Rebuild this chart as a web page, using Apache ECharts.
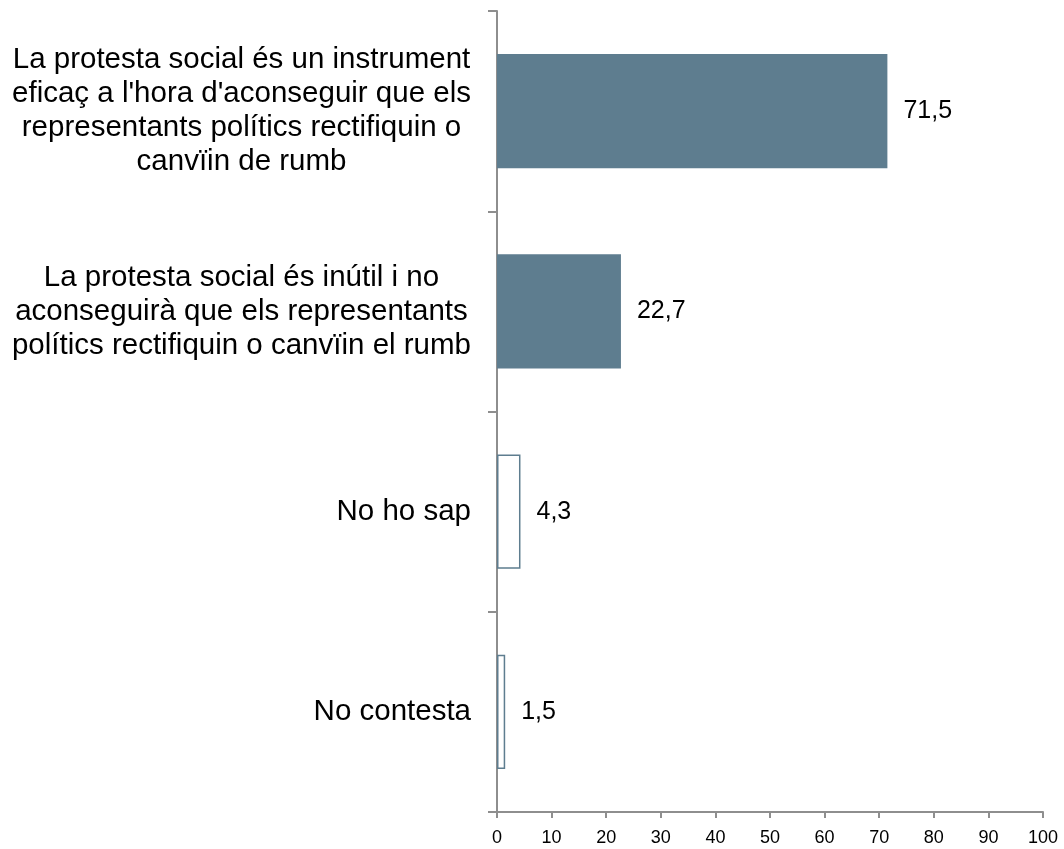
<!DOCTYPE html>
<html>
<head>
<meta charset="utf-8">
<script src="https://cdn.jsdelivr.net/npm/echarts@6/dist/echarts.min.js"></script>
<style>html,body{margin:0;padding:0;background:#fff;}#c{width:1064px;height:849px;}</style>
</head>
<body>
<div id="c"></div>
<script>
const categories = [
  "La protesta social és un instrument\neficaç a l'hora d'aconseguir que els\nrepresentants polítics rectifiquin o\ncanvïin de rumb",
  "La protesta social és inútil i no\naconseguirà que els representants\npolítics rectifiquin o canvïin el rumb",
  "No ho sap",
  "No contesta"
];
const values = [71.5, 22.7, 4.3, 1.5];
const filled = [true, true, false, false];
const xTicks = [0, 10, 20, 30, 40, 50, 60, 70, 80, 90, 100];

const barColor = '#5E7D8F';
const FONT = 'Liberation Sans, Arial, sans-serif';
const chart = echarts.init(document.getElementById('c'), null, {renderer: 'canvas'});
chart.setOption({
  animation: false,
  backgroundColor: '#ffffff',
  grid: {left: 497, right: 21, top: 11, bottom: 37, containLabel: false},
  xAxis: {
    type: 'value', min: xTicks[0], max: xTicks[xTicks.length - 1], interval: 10,
    splitLine: {show: false},
    axisLine: {show: true, lineStyle: {color: '#8E8E8E', width: 2}},
    axisTick: {show: true, length: 6, lineStyle: {color: '#8E8E8E', width: 2}},
    axisLabel: {color: '#000', fontSize: 18, fontFamily: FONT, margin: 17}
  },
  yAxis: {
    type: 'category', inverse: true, data: categories,
    axisLine: {show: true, lineStyle: {color: '#8E8E8E', width: 2}},
    axisTick: {show: true, length: 9, alignWithLabel: false, lineStyle: {color: '#8E8E8E', width: 2}},
    axisLabel: {
      color: '#000', fontSize: 29.5, fontFamily: FONT, margin: 26,
      lineHeight: 34, align: 'right',
      formatter: function (v) { return v.split('\n').map(l => '{c|' + l + '}').join('\n'); },
      rich: {c: {align: 'center', fontSize: 29.5, lineHeight: 34, color: '#000', fontFamily: FONT}}
    }
  },
  series: [{
    type: 'bar', barWidth: '57%',
    data: values.map((v, i) => ({
      value: v,
      itemStyle: filled[i] ? {color: barColor} : {color: '#ffffff', borderColor: barColor, borderWidth: 1.5}
    })),
    label: {
      show: true, position: 'right', distance: 16, color: '#000', fontSize: 25,
      fontFamily: FONT,
      formatter: p => String(p.value).replace('.', ',')
    }
  }]
});
</script>
</body>
</html>
